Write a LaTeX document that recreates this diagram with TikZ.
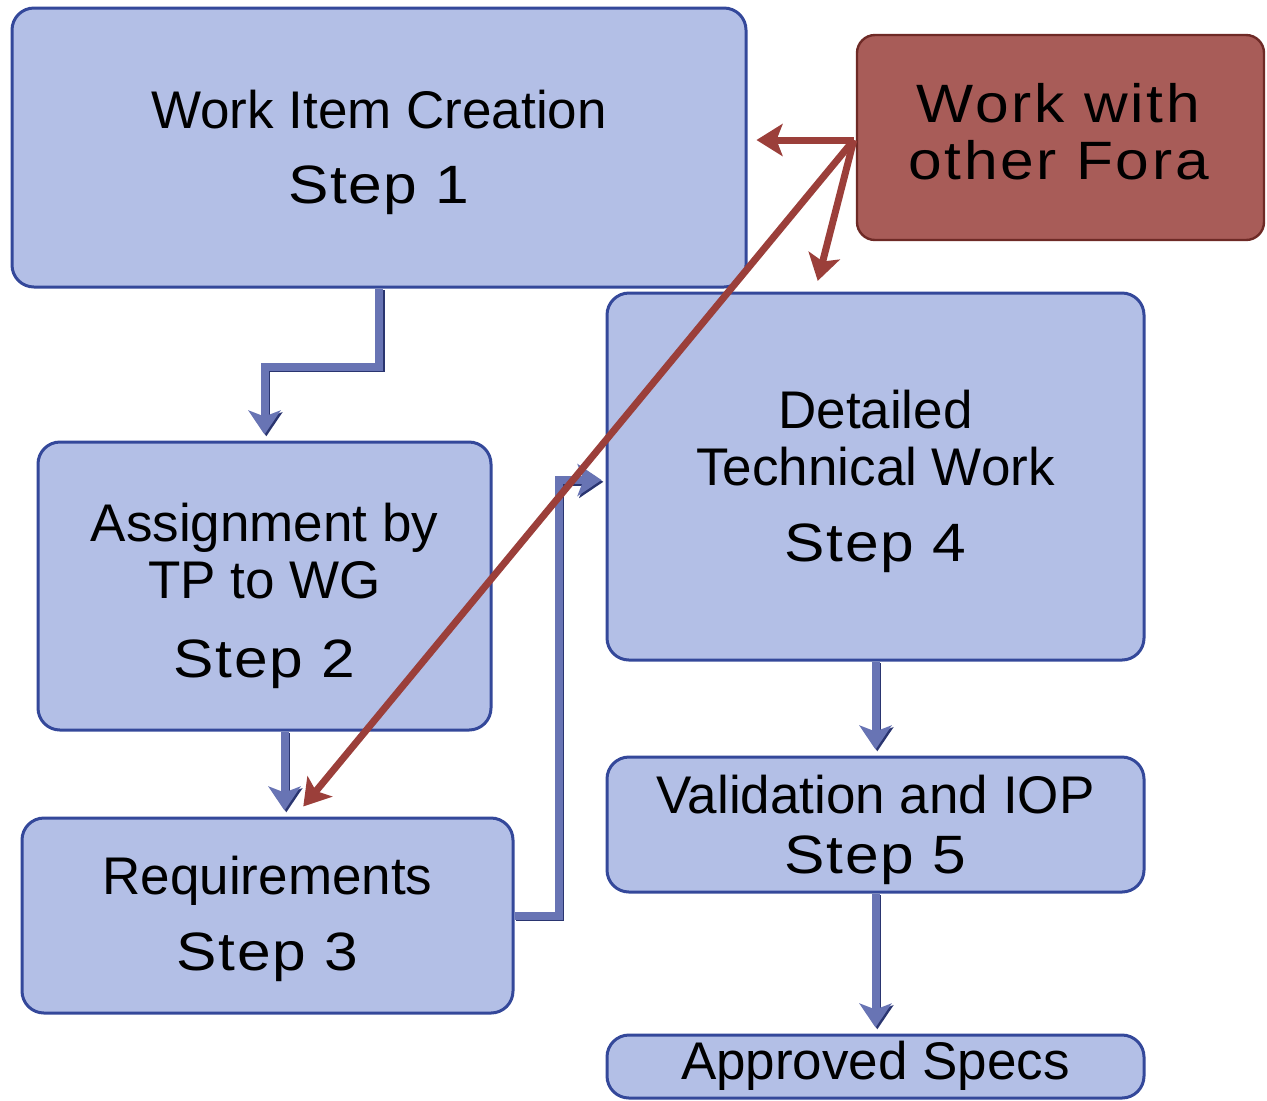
\documentclass[tikz,border=0pt]{standalone}
\usepackage{fontspec}
\setmainfont{Liberation Sans}
\newfontfamily\stepfont[FakeStretch=1.12,LetterSpace=3]{Liberation Sans}
\newfontfamily\forafont[FakeStretch=1.12,LetterSpace=5]{Liberation Sans}
\usetikzlibrary{arrows.meta,calc}
\definecolor{boxfill}{HTML}{B3BFE6}
\definecolor{boxedge}{HTML}{34489A}
\definecolor{flowblue}{HTML}{6874B4}
\definecolor{flowdark}{HTML}{2A3570}
\definecolor{forafill}{HTML}{A85C58}
\definecolor{foraedge}{HTML}{6E2A26}
\definecolor{forarrow}{HTML}{9B3F3A}
\newcommand{\stepline}[1]{{\stepfont\fontsize{27}{28}\selectfont #1}}
\tikzset{
  stagebox/.style={draw=boxedge, line width=1.5pt, fill=boxfill, rounded corners=11pt,
    inner sep=0pt},
  forabox/.style={draw=foraedge, line width=1.2pt, fill=forafill, rounded corners=9pt,
    inner sep=0pt},
  stagetext/.style={align=center, inner sep=0pt, text=black,
    font=\fontsize{26.5}{28.5}\selectfont},
  foratext/.style={align=center, inner sep=0pt, text=black,
    font=\forafont\fontsize{27}{28.5}\selectfont},
  flow/.style={draw=flowblue, line width=4pt,
    -{Stealth[length=12pt,width=16pt,inset=3pt]},
    preaction={draw=flowdark, line width=4pt, transform canvas={shift={(0.9pt,-0.9pt)}},
      -{Stealth[length=12pt,width=16pt,inset=3pt]}}},
  foraflow/.style={draw=forarrow, line width=3.5pt,
    -{Stealth[length=13pt,width=16pt,inset=3pt]}},
}
\begin{document}
\begin{tikzpicture}[x=0.5pt,y=-0.5pt]
\useasboundingbox (0,0) rectangle (1267,1100);

% process stages
\node[stagebox, minimum width=367pt, minimum height=139.5pt] (b1) at (379,147.5) {};
\node[stagebox, minimum width=226.5pt, minimum height=144pt] (b2) at (264.5,586) {};
\node[stagebox, minimum width=245.5pt, minimum height=97.5pt] (b3) at (267.5,915.5) {};
\node[stagebox, minimum width=268.5pt, minimum height=183.5pt] (b4) at (875.5,476.5) {};
\node[stagebox, minimum width=268.5pt, minimum height=67.5pt] (b5) at (875.5,824.5) {};
\node[stagebox, minimum width=268.5pt, minimum height=31.5pt] (b6) at (875.5,1066.5) {};

% stage labels
\node[stagetext] (t1) at ([yshift=-2.5pt]b1.center)
  {Work Item Creation\\[9pt]\stepline{Step 1}};
\node[stagetext] (t2) at ([yshift=-5pt]b2.center)
  {Assignment by\\TP to WG\\[11pt]\stepline{Step 2}};
\node[stagetext] (t3) at ([yshift=-1.5pt]b3.center)
  {Requirements\\[9.5pt]\stepline{Step 3}};
\node[stagetext] (t4) at ([yshift=-2.5pt]b4.center)
  {Detailed\\Technical Work\\[9.5pt]\stepline{Step 4}};
\node[stagetext] (t5) at ([yshift=-2.5pt]b5.center)
  {Validation and IOP\\[1.5pt]\stepline{Step 5}};
\node[stagetext] (t6) at ([yshift=0.5pt]b6.center) {Approved Specs};

% external collaboration
\node[forabox, minimum width=203.5pt, minimum height=102.5pt] (fora) at (1060.5,137.5) {};
\node[foratext] (tf) at ([xshift=-1pt,yshift=3pt]fora.center) {Work with\\other Fora};

% main flow
\draw[flow, shorten >=3pt] (b1.south) -- ++(0,78) -| (b2.north);
\draw[flow, shorten >=3pt] ([xshift=10pt]b2.south) -- ([xshift=10pt]b2.south |- b3.north);
\draw[flow, shorten >=2pt] (b3.east) -- ++(44,0) |- ([yshift=-1.75pt]b4.west);
\draw[flow, shorten >=3pt] (b4.south) -- (b4.south |- b5.north);
\draw[flow, shorten >=3pt] (b5.south) -- (b5.south |- b6.north);

% input from other fora
\coordinate (src) at ([xshift=-1pt,yshift=-1.25pt]fora.west);
\draw[foraflow, shorten >=4.5pt] (src) -- (src -| b1.east);
\draw[foraflow, shorten >=5.5pt] (src) -- ([xshift=-30.25pt]b4.north);
\draw[foraflow, shorten >=6.5pt] (src) -- ([xshift=13.75pt]b3.north);
\end{tikzpicture}
\end{document}
